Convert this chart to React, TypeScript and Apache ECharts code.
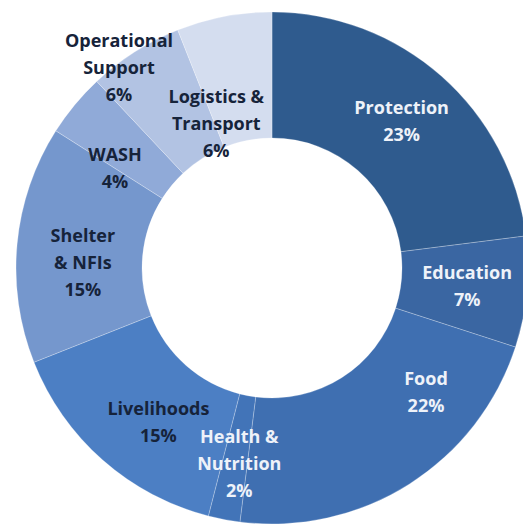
import React, { useEffect, useRef } from "react";
import * as echarts from "echarts";

const categories = [
  "Protection",
  "Education",
  "Food",
  "Health &\nNutrition",
  "Livelihoods",
  "Shelter\n& NFIs",
  "WASH",
  "Operational\nSupport",
  "Logistics &\nTransport",
];
const values = [23, 7, 22, 2, 15, 15, 4, 6, 6];
const colors = [
  "#2F5B8E",
  "#3A66A2",
  "#3F6FB1",
  "#4274B8",
  "#4C7FC4",
  "#7597CD",
  "#90AAD8",
  "#B2C3E3",
  "#D4DDEF",
];
const labelColors = [
  "#EEF2F9",
  "#EEF2F9",
  "#EEF2F9",
  "#EEF2F9",
  "#16233A",
  "#16233A",
  "#16233A",
  "#16233A",
  "#16233A",
];
const labelShift: [number, number][] = [
  [0, 0],
  [0, -1],
  [49, -42],
  [4, 2],
  [16, 6],
  [6, 12],
  [-6, 24],
  [-48, -36],
  [-19, 48],
];

export default function App() {
  const ref = useRef<HTMLDivElement>(null);
  useEffect(() => {
    if (!ref.current) return;
    const chart = echarts.init(ref.current, null, { renderer: "svg" });
    chart.setOption({
      animation: false,
      backgroundColor: "#ffffff",
      series: [
        {
          type: "pie",
          center: [272, 268],
          radius: [130, 256],
          startAngle: 90,
          clockwise: true,
          avoidLabelOverlap: false,
          itemStyle: { borderColor: "rgba(255,255,255,0.25)", borderWidth: 1 },
          label: {
            show: true,
            position: "inside",
            formatter: (p: any) => `${p.name}\n${p.value}%`,
            fontFamily: "Open Sans",
            fontWeight: "bold",
            fontSize: 18,
            lineHeight: 27,
            align: "center",
          },
          labelLayout: (p: any) => {
            const s = labelShift[p.dataIndex] || [0, 0];
            return { dx: s[0], dy: s[1] };
          },
          labelLine: { show: false },
          data: categories.map((c, i) => ({
            name: c,
            value: values[i],
            itemStyle: { color: colors[i] },
            label: { color: labelColors[i] },
          })),
        },
      ],
    });
    return () => chart.dispose();
  }, []);
  return (
    <div
      ref={ref}
      style={{ position: "fixed", left: 0, top: 0, width: 523, height: 525 }}
    />
  );
}
